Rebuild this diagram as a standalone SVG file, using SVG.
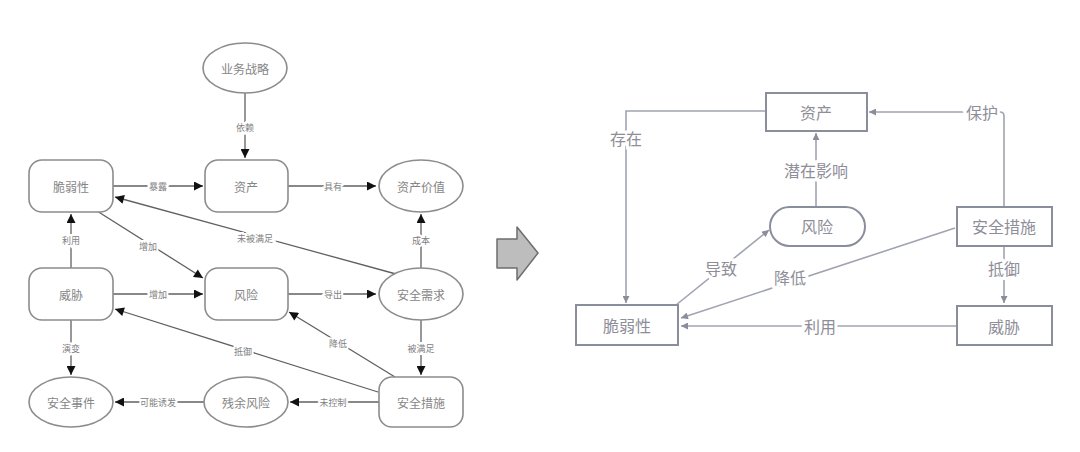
<svg xmlns="http://www.w3.org/2000/svg" width="1080" height="452" viewBox="0 0 1080 452">
<style>
text{font-family:"Noto Sans CJK SC","Noto Sans",sans-serif;text-anchor:middle;dominant-baseline:central}
.ln{fill:#fff;stroke:#8c8c8c;stroke-width:1.6}
.lt{font-size:12px;fill:#858585}
.le{fill:none;stroke:#606060;stroke-width:1.3}
.ll{font-size:9px;fill:#808080;stroke:#fff;stroke-width:4;paint-order:stroke}
.rn{fill:#fff;stroke:#8a8e9c;stroke-width:2}
.rt{font-size:16px;fill:#8e8e98}
.re{fill:none;stroke:#a0a4b0;stroke-width:1.6}
.rl{font-size:16px;fill:#8e8e98;stroke:#fff;stroke-width:6;paint-order:stroke}
</style>
<defs>
<marker id="ah" viewBox="0 0 10 10" refX="10" refY="5" markerWidth="10" markerHeight="9" markerUnits="userSpaceOnUse" orient="auto"><path d="M0,0L10,5L0,10z" fill="#111"/></marker>
<marker id="rh" viewBox="0 0 10 10" refX="10" refY="5" markerWidth="9" markerHeight="7" markerUnits="userSpaceOnUse" orient="auto"><path d="M0,0L10,5L0,10z" fill="#8a8e9c"/></marker>
</defs>
<rect width="1080" height="452" fill="#fff"/>

<!-- left diagram connectors -->
<g id="left-edges">
<path class="le" d="M245,93V158" marker-end="url(#ah)"/>
<text class="ll" x="245" y="127">依赖</text>
<path class="le" d="M113,186H203" marker-end="url(#ah)"/>
<text class="ll" x="158" y="186">暴露</text>
<path class="le" d="M288,186H376" marker-end="url(#ah)"/>
<text class="ll" x="333" y="186">具有</text>
<path class="le" d="M71,268V214" marker-end="url(#ah)"/>
<text class="ll" x="71" y="240">利用</text>
<path class="le" d="M97,211L203,278" marker-end="url(#ah)"/>
<text class="ll" x="148" y="246">增加</text>
<path class="le" d="M396,274L115,197" marker-end="url(#ah)"/>
<text class="ll" x="255" y="238">未被满足</text>
<path class="le" d="M421,268V214" marker-end="url(#ah)"/>
<text class="ll" x="421" y="240">成本</text>
<path class="le" d="M113,294H203" marker-end="url(#ah)"/>
<text class="ll" x="158" y="294">增加</text>
<path class="le" d="M288,294H376" marker-end="url(#ah)"/>
<text class="ll" x="333" y="294">导出</text>
<path class="le" d="M71,320V375" marker-end="url(#ah)"/>
<text class="ll" x="71" y="348">演变</text>
<path class="le" d="M421,320V375" marker-end="url(#ah)"/>
<text class="ll" x="421" y="348">被满足</text>
<path class="le" d="M378,392L115,309" marker-end="url(#ah)"/>
<text class="ll" x="243" y="351">抵御</text>
<path class="le" d="M395,377L289,312" marker-end="url(#ah)"/>
<text class="ll" x="338" y="343">降低</text>
<path class="le" d="M379,402H290" marker-end="url(#ah)"/>
<text class="ll" x="333" y="402">未控制</text>
<path class="le" d="M204,402H115" marker-end="url(#ah)"/>
<text class="ll" x="158" y="402">可能诱发</text>
</g>

<!-- left diagram nodes -->
<g id="l-strategy"><ellipse class="ln" cx="245" cy="68" rx="42" ry="25"/><text class="lt" x="245" y="68">业务战略</text></g>
<g id="l-vuln"><rect class="ln" x="29" y="160" width="84" height="52" rx="13"/><text class="lt" x="71" y="186">脆弱性</text></g>
<g id="l-asset"><rect class="ln" x="205" y="160" width="83" height="52" rx="13"/><text class="lt" x="246" y="186">资产</text></g>
<g id="l-value"><ellipse class="ln" cx="421" cy="186" rx="42" ry="26"/><text class="lt" x="421" y="186">资产价值</text></g>
<g id="l-threat"><rect class="ln" x="29" y="268" width="84" height="52" rx="13"/><text class="lt" x="71" y="294">威胁</text></g>
<g id="l-risk"><rect class="ln" x="205" y="268" width="83" height="52" rx="13"/><text class="lt" x="246" y="294">风险</text></g>
<g id="l-req"><ellipse class="ln" cx="421" cy="294" rx="42" ry="26"/><text class="lt" x="421" y="294">安全需求</text></g>
<g id="l-incident"><ellipse class="ln" cx="71" cy="402" rx="42" ry="25"/><text class="lt" x="71" y="402">安全事件</text></g>
<g id="l-residual"><ellipse class="ln" cx="246" cy="402" rx="42" ry="25"/><text class="lt" x="246" y="402">残余风险</text></g>
<g id="l-measure"><rect class="ln" x="379" y="377" width="84" height="50" rx="13"/><text class="lt" x="421" y="402">安全措施</text></g>

<!-- block arrow -->
<g id="big-arrow"><path d="M497,239H517V227L538,253L517,280V268H497Z" fill="#bdbdbd" stroke="#6e6e6e" stroke-width="1.5" stroke-linejoin="round"/></g>

<!-- right diagram connectors -->
<g id="right-edges">
<path class="re" d="M766,111H626V303" marker-end="url(#rh)"/>
<text class="rl" x="626" y="138">存在</text>
<path class="re" d="M1004,207V116Q1004,112 1000,112H869" marker-end="url(#rh)"/>
<text class="rl" x="982" y="112">保护</text>
<path class="re" d="M816,207V133" marker-end="url(#rh)"/>
<text class="rl" x="816" y="170">潜在影响</text>
<path class="re" d="M676,305L769,230" marker-end="url(#rh)"/>
<text class="rl" x="721" y="268">导致</text>
<path class="re" d="M955,228L681,318" marker-end="url(#rh)"/>
<text class="rl" x="790" y="277">降低</text>
<path class="re" d="M1004,247V303" marker-end="url(#rh)"/>
<text class="rl" x="1004" y="268">抵御</text>
<path class="re" d="M957,326H681" marker-end="url(#rh)"/>
<text class="rl" x="820" y="326">利用</text>
</g>

<!-- right diagram nodes -->
<g id="r-asset"><rect class="rn" x="766" y="93" width="101" height="38"/><text class="rt" x="816" y="112">资产</text></g>
<g id="r-risk"><rect class="rn" x="770" y="207" width="95" height="39" rx="19.5"/><text class="rt" x="817" y="226">风险</text></g>
<g id="r-measure"><rect class="rn" x="957" y="207" width="95" height="39"/><text class="rt" x="1004" y="226">安全措施</text></g>
<g id="r-vuln"><rect class="rn" x="576" y="305" width="102" height="40"/><text class="rt" x="627" y="325">脆弱性</text></g>
<g id="r-threat"><rect class="rn" x="957" y="306" width="95" height="39"/><text class="rt" x="1004" y="326">威胁</text></g>
</svg>
